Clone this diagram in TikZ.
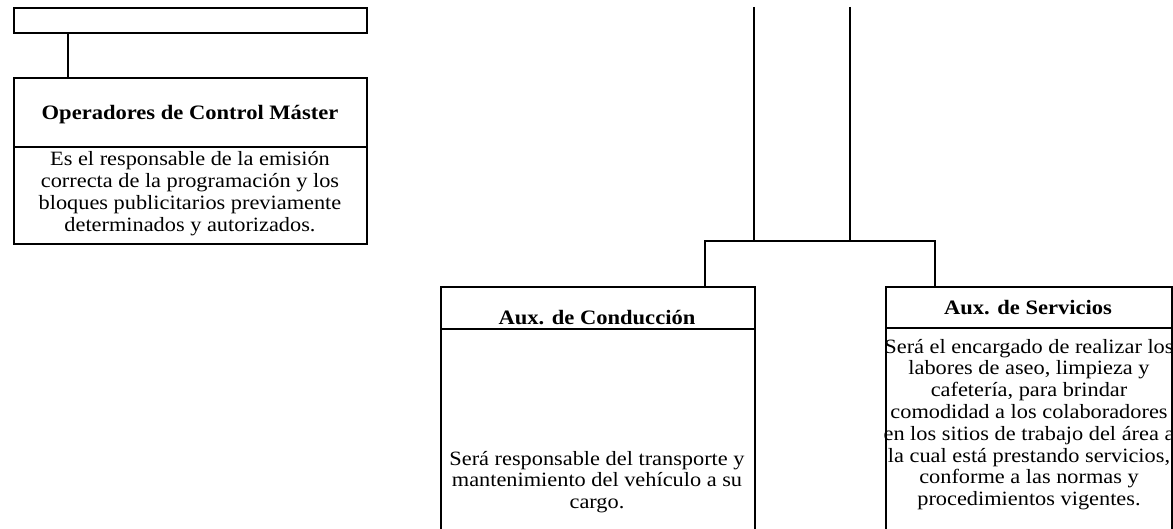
\documentclass[tikz,border=0pt]{standalone}
\usepackage{fontspec}
\setmainfont[FakeStretch=1.1]{Liberation Serif}
\begin{document}
\begin{tikzpicture}[x=1pt,y=-1pt,
  box/.style={draw=black,line width=1.8pt,rectangle,anchor=north west,inner sep=0pt},
  line/.style={draw=black,line width=1.8pt},
  head/.style={font=\fontsize{20.5}{21.8}\selectfont\bfseries,align=center,inner sep=0pt},
  body/.style={font=\fontsize{20.3}{21.8}\selectfont,align=center,inner sep=0pt}]
\useasboundingbox (0,0) rectangle (1173,529);
\clip (0,0) rectangle (1173,529);
% top left box
\node[box,minimum width=353pt,minimum height=25pt] (topbox) at (13,7) {};
% Operadores
\node[box,minimum width=353pt,minimum height=69pt] (ophead) at (13,77) {};
\node[box,minimum width=353pt,minimum height=97pt] (opbody) at (13,146) {};
\node[head] (ophtext) at (190,114.5) {Operadores de Control Máster};
\node[body] (opbtext) at (190,193.5) {Es el responsable de la emisión\\correcta de la programación y los\\bloques publicitarios previamente\\determinados y autorizados.};
\draw[line] ([xshift=55pt]topbox.south west) -- ([xshift=55pt]ophead.north west);
% Conduccion
\node[box,minimum width=314pt,minimum height=42pt] (cohead) at (440,286) {};
\node[box,minimum width=314pt,minimum height=220pt] (cobody) at (440,328) {};
\node[head] (cohtext) at (597,318) {Aux. de Conducción};
\node[body] (cobtext) at (597,482) {Será responsable del transporte y\\mantenimiento del vehículo a su\\cargo.};
% Servicios
\node[box,minimum width=286pt,minimum height=41pt] (sehead) at (885,286) {};
\node[box,minimum width=286pt,minimum height=220pt] (sebody) at (885,327) {};
\node[head] (sehtext) at (1028,308) {Aux. de Servicios};
\node[body] (sebtext) at (1029,424.5) {Será el encargado de realizar los\\labores de aseo, limpieza y\\cafetería, para brindar\\comodidad a los colaboradores\\en los sitios de trabajo del área a\\la cual está prestando servicios,\\conforme a las normas y\\procedimientos vigentes.};
% connectors
\coordinate (t1) at (754,7);
\coordinate (t2) at (850,7);
\coordinate (busl) at (705,241);
\coordinate (busr) at (935,241);
\draw[line] (t1) -- (t1 |- busl);
\draw[line] (t2) -- (t2 |- busl);
\draw[line] (cohead.north -| busl) -- (busl) -- (busr) -- (sehead.north -| busr);
\end{tikzpicture}
\end{document}
